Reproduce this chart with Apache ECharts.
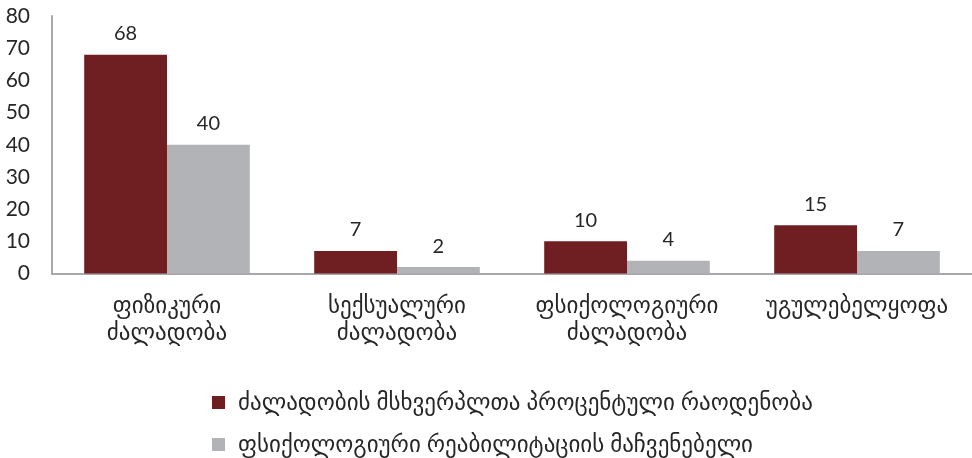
<!DOCTYPE html>
<html>
<head>
<meta charset="utf-8">
<script src="https://cdn.jsdelivr.net/npm/echarts@6/dist/echarts.min.js"></script>
<style>
  html, body { margin: 0; padding: 0; background: #fff; }
  #chart { width: 972px; height: 458px; }
</style>
</head>
<body>
<div id="chart"></div>
<script>
// Categories of violence (two-line labels)
const categories = [
  'ფიზიკური\nძალადობა',
  'სექსუალური\nძალადობა',
  'ფსიქოლოგიური\nძალადობა',
  'უგულებელყოფა'
];
const seriesNames = [
  'ძალადობის მსხვერპლთა პროცენტული რაოდენობა',
  'ფსიქოლოგიური რეაბილიტაციის მაჩვენებელი'
];
const victimsShare = [68, 7, 10, 15];
const rehabRate = [40, 2, 4, 7];

const FONT = 'Lato, "DejaVu Sans", sans-serif';
const TXT = '#262626';
const AXIS = '#a8a7ac';

const chart = echarts.init(document.getElementById('chart'));
chart.setOption({
  animation: false,
  textStyle: { fontFamily: FONT },
  grid: { left: 52, right: -4, top: 16, bottom: 184.5, containLabel: false },
  legend: {
    orient: 'vertical',
    left: 212,
    top: 391,
    height: 90,
    padding: 0,
    itemWidth: 13,
    itemHeight: 13,
    itemGap: 19,
    icon: 'rect',
    textStyle: { fontFamily: FONT, fontSize: 23, lineHeight: 23, color: TXT, padding: [0, 0, 0, 8] },
    data: seriesNames
  },
  xAxis: {
    type: 'category',
    data: categories,
    axisLine: { lineStyle: { color: AXIS, width: 2 } },
    axisTick: { show: false },
    axisLabel: { interval: 0, color: TXT, fontSize: 23, lineHeight: 27, margin: 19, fontFamily: FONT }
  },
  yAxis: {
    type: 'value',
    min: 0,
    max: 80,
    interval: 10,
    splitLine: { show: false },
    axisLine: { show: true, lineStyle: { color: AXIS, width: 2 } },
    axisTick: { show: false },
    axisLabel: { color: TXT, fontSize: 21, margin: 22, fontFamily: FONT }
  },
  series: [
    {
      name: seriesNames[0],
      type: 'bar',
      data: victimsShare,
      barGap: '0%',
      barCategoryGap: '28%',
      itemStyle: { color: '#6f1e21' },
      label: { show: true, position: 'top', distance: 11, color: TXT, fontSize: 20, fontFamily: FONT }
    },
    {
      name: seriesNames[1],
      type: 'bar',
      data: rehabRate,
      barGap: '0%',
      barCategoryGap: '28%',
      itemStyle: { color: '#b2b3b6' },
      label: { show: true, position: 'top', distance: 11, color: TXT, fontSize: 20, fontFamily: FONT }
    }
  ]
});
</script>
</body>
</html>
